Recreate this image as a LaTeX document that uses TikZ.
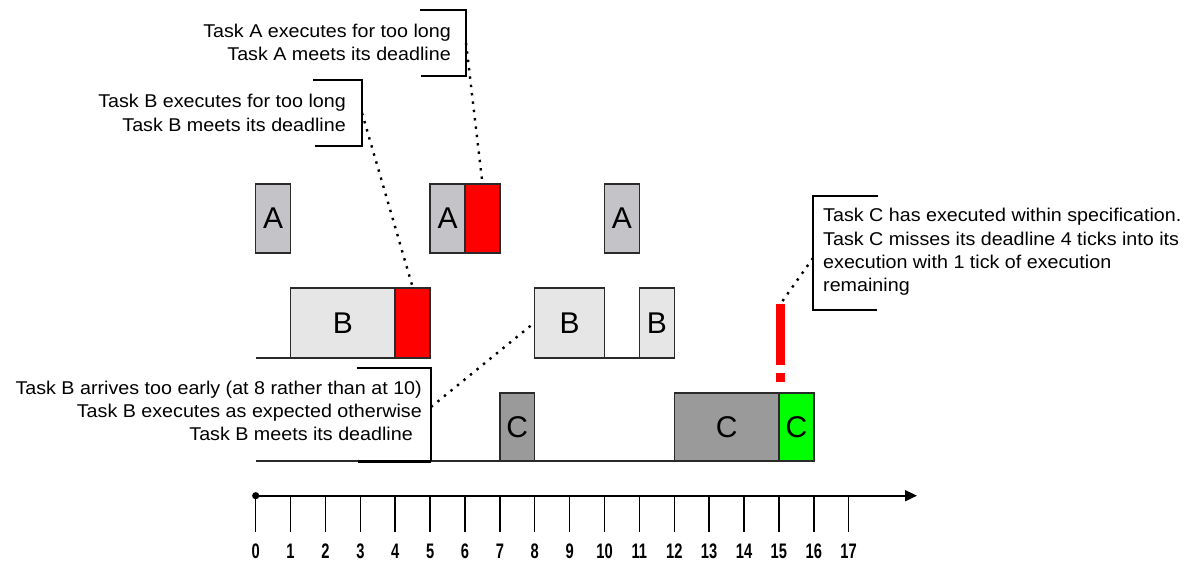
\documentclass[tikz,border=0pt]{standalone}
\usepackage{fontspec}
\usepackage{graphicx}
\setmainfont{Liberation Sans}
\newfontfamily\callfont[FakeStretch=1.065]{Liberation Sans}
\usetikzlibrary{arrows.meta}
\definecolor{agray}{HTML}{C4C4C8}
\definecolor{bgray}{HTML}{E6E6E6}
\definecolor{cgray}{HTML}{9A9A9A}
\definecolor{tred}{HTML}{FF0000}
\definecolor{tgreen}{HTML}{00FF00}
\definecolor{edge}{HTML}{2A2A2A}
\begin{document}
\begin{tikzpicture}[x=1pt,y=-1pt,
  tbox/.style={draw=edge, line width=1.5pt, inner sep=0pt, anchor=center,
    minimum height=69pt, font=\fontsize{30}{30}\selectfont},
  abox/.style={tbox, fill=agray},
  bbox/.style={tbox, fill=bgray},
  cbox/.style={tbox, fill=cgray, minimum height=68pt},
  rbox/.style={tbox, fill=tred},
  gbox/.style={tbox, fill=tgreen, minimum height=68pt},
  ctext/.style={inner sep=0pt, font=\callfont\fontsize{18.5}{23.3}\selectfont},
  bracket/.style={draw=black, line width=1.5pt},
  baseln/.style={draw=edge, line width=1.5pt},
  dotline/.style={draw=black, line width=2.4pt, dash pattern=on 2.4pt off 6pt},
  ticklbl/.style={inner sep=0pt, font=\bfseries\fontsize{21}{21}\selectfont},
  excl/.style={fill=tred, draw=none, inner sep=0pt, minimum width=9pt}
]
\useasboundingbox (0,0) rectangle (1185,562);
\def\u{34.88}
\def\tx#1{{255.7+34.88*(#1)}}

% baselines
\draw[baseln] (\tx{0},358) -- (\tx{1},358);
\draw[baseln] (\tx{10},358) -- (\tx{11},358);
\draw[baseln] (\tx{0},461) -- (\tx{7},461);
\draw[baseln] (\tx{8},461) -- (\tx{12},461);

% row A  (y 184 .. 253)
\node[abox, minimum width=1*\u pt] (a1)  at (\tx{0.5},218.5) {A};
\node[abox, minimum width=1*\u pt] (a2)  at (\tx{5.5},218.5) {A};
\node[rbox, minimum width=1*\u pt] (a2r) at (\tx{6.5},218.5) {};
\node[abox, minimum width=1*\u pt] (a3)  at (\tx{10.5},218.5) {A};

% row B  (y 288 .. 358)
\node[bbox, minimum width=3*\u pt, minimum height=70pt] (b1)  at (\tx{2.5},323) {B};
\node[rbox, minimum width=1*\u pt, minimum height=70pt] (b1r) at (\tx{4.5},323) {};
\node[bbox, minimum width=2*\u pt, minimum height=70pt] (b2)  at (\tx{9},323) {B};
\node[bbox, minimum width=1*\u pt, minimum height=70pt] (b3)  at (\tx{11.5},323) {B};

% row C  (y 393 .. 461)
\node[cbox, minimum width=1*\u pt] (c1)  at (\tx{7.5},427) {C};
\node[cbox, minimum width=3*\u pt] (c2)  at (\tx{13.5},427) {C};
\node[gbox, minimum width=1*\u pt] (c2g) at (\tx{15.5},427) {C};

% exclamation mark
\node[excl, minimum height=61pt] (exclbar) at (780.5,334.5) {};
\node[excl, minimum height=9pt]  (excldot) at (780.5,377.5) {};

% callout A
\node[ctext, anchor=east, align=right] (ta) at (451,42.5) {Task A executes for too long\\Task A meets its deadline};
\draw[bracket] (420,10) -| (466,76) -- (421,76);
\coordinate (ca) at (466,43);
\draw[dotline] (ca) -- (a2r.north);

% callout B too long
\node[ctext, anchor=east, align=right] (tb) at (346,113) {Task B executes for too long\\Task B meets its deadline};
\draw[bracket] (313,80) -| (362,146) -- (315,146);
\coordinate (cb) at (362,113);
\draw[dotline] (cb) -- (b1r.north);

% callout B arrives early
\node[ctext, anchor=east, align=right] (tb2) at (422,411) {Task B arrives too early (at 8 rather than at 10)\\Task B executes as expected otherwise\hspace*{9pt}\\Task B meets its deadline\hspace*{9pt}};
\draw[bracket] (357,368) -| (431,461);
\draw[black, line width=3pt] (358,461) -- (431,461);
\coordinate (cb2) at (431,407);
\draw[dotline] (cb2) -- (b2.west);

% callout C
\node[ctext, anchor=west, align=left] (tc) at (823,252) {Task C has executed within specification.\\Task C misses its deadline 4 ticks into its\\execution with 1 tick of execution\\remaining};
\draw[bracket] (878,196) -| (813,310) -- (877,310);
\coordinate (cc) at (813,258);
\draw[dotline] (cc) -- (exclbar.north);

% time axis
\coordinate (ax0) at (\tx{0},495.7);
\coordinate (axend) at (917,495.7);
\draw[black, line width=1.8pt, -{Triangle[length=12pt,width=11pt]}] (ax0) -- (axend);
\fill[black] (ax0) circle (3.6);
\foreach \t in {0,...,17}{
  \draw[black, line width=1.5pt] (\tx{\t},495.7) -- (\tx{\t},532);
  \node[ticklbl] (lbl\t) at (\tx{\t},551.5) {\scalebox{0.7}[1]{\t}};
}
\end{tikzpicture}
\end{document}
